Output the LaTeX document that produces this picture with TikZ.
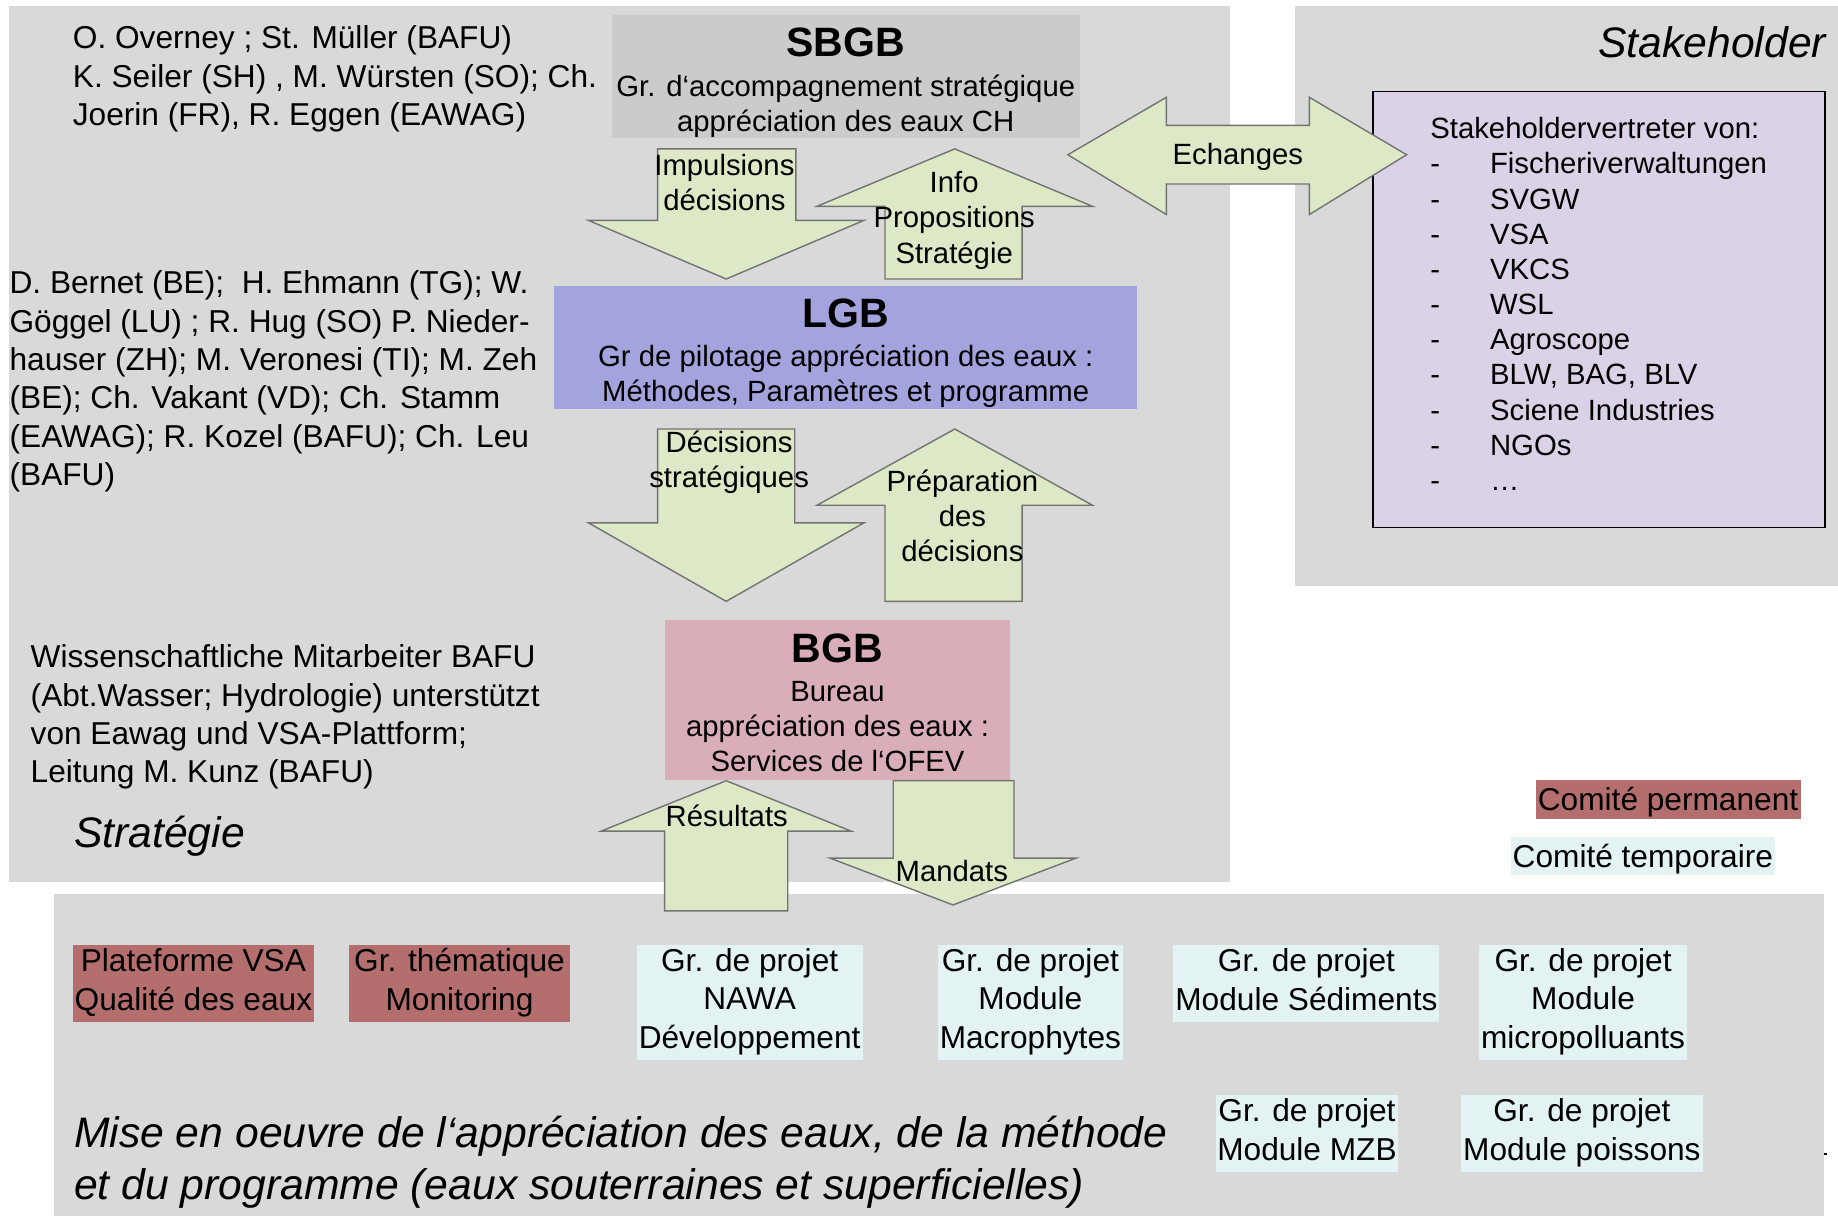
\documentclass[tikz,border=0pt]{standalone}
\usepackage{fontspec}
\setmainfont{Liberation Sans}
\usetikzlibrary{positioning}
\definecolor{PanelGray}{HTML}{D9D9D9}
\definecolor{SbgbGray}{HTML}{CBCBCB}
\definecolor{LgbBlue}{HTML}{A3A3DE}
\definecolor{BgbRose}{HTML}{D9AEB8}
\definecolor{StakeLilac}{HTML}{DCD2E8}
\definecolor{ArrowGreen}{HTML}{DCE8C6}
\definecolor{PermRed}{HTML}{B46E6E}
\definecolor{TempCyan}{HTML}{E3F3F3}
\newcommand{\fsz}[2]{\fontsize{#1}{#2}\selectfont}
\newcommand{\stkitem}[1]{\makebox[51pt][l]{-}#1}
\newcommand{\grpstrut}{\rule[-6.6pt]{0pt}{32.6pt}}

\tikzset{
  panel/.style={fill=PanelGray,draw=none},
  namestext/.style={anchor=north west,inner sep=0pt,align=left,font=\fsz{27}{32.7}},
  headbox/.style={inner sep=0pt,align=center,font=\fsz{25}{30}},
  blockarrow/.style={fill=ArrowGreen,draw=black!55,line width=1.2pt,line join=miter},
  arrowlabel/.style={inner sep=0pt,align=center,font=\fsz{25}{30}},
  groupbox/.style={inner sep=0pt,align=center,font=\fsz{27}{33},
    execute at begin node=\grpstrut,execute at end node=\grpstrut},
  permbox/.style={groupbox,fill=PermRed},
  tempbox/.style={groupbox,fill=TempCyan},
  bigital/.style={inner sep=0pt,font=\fsz{36.4}{44}\itshape}
}

\begin{document}
\begin{tikzpicture}[x=1pt,y=-1pt]
  \useasboundingbox (0,0) rectangle (1568,1037);
  % background panels
  \fill[panel] (8,5) rectangle (1049,752);
  \fill[panel] (1105,5) rectangle (1568,500);
  \fill[panel] (46,763) rectangle (1556,1037);
  \fill[black] (1556,984) rectangle (1559,985.5);

  % members
  \node[namestext] (sbgbnames) at (62,22)
    {O. Overney ; St. Müller (BAFU)\\K. Seiler (SH) , M. Würsten (SO); Ch.\\Joerin (FR), R. Eggen (EAWAG)};
  \node[namestext] (lgbnames) at (8,231)
    {D. Bernet (BE);\ \ H. Ehmann (TG); W.\\Göggel (LU) ; R. Hug (SO) P. Nieder-\\hauser (ZH); M. Veronesi (TI); M. Zeh\\(BE); Ch. Vakant (VD); Ch. Stamm\\(EAWAG); R. Kozel (BAFU); Ch. Leu\\(BAFU)};
  \node[namestext] (bgbnames) at (26,550)
    {Wissenschaftliche Mitarbeiter BAFU\\(Abt.Wasser; Hydrologie) unterstützt\\von Eawag und VSA-Plattform;\\Leitung M. Kunz (BAFU)};
  \node[bigital,anchor=base west] (strategie) at (63,723) {Stratégie};
  \node[bigital,anchor=base east] (stakeholder) at (1558,49) {Stakeholder};

  % committees
  \node[headbox,fill=SbgbGray,minimum width=399pt,minimum height=104pt] (sbgb) at (721.5,65)
    {{\fsz{35}{30}\bfseries\rule{0pt}{36pt}SBGB}\\[4pt]Gr. d‘accompagnement stratégique\\appréciation des eaux CH};
  \node[headbox,fill=LgbBlue,minimum width=497pt,minimum height=105pt] (lgb) at (721.5,296.5)
    {{\fsz{35}{30}\bfseries\rule{0pt}{34pt}LGB}\\[3pt]Gr de pilotage appréciation des eaux :\\Méthodes, Paramètres et programme};
  \node[headbox,fill=BgbRose,minimum width=295pt,minimum height=136pt] (bgb) at (714.5,597)
    {{\fsz{35}{30}\bfseries\rule{0pt}{30pt}BGB}\\[3pt]Bureau\\appréciation des eaux :\\Services de l‘OFEV};

  % stakeholders
  \node[draw=black,line width=1.5pt,fill=StakeLilac,minimum width=386pt,minimum height=372pt] (stakebox) at (1364,264) {};
  \node[anchor=north west,inner sep=0pt,align=left,font=\fsz{25}{30}] (stakelist) at (1220,100)
    {Stakeholdervertreter von:\\\stkitem{Fischeriverwaltungen}\\\stkitem{SVGW}\\\stkitem{VSA}\\\stkitem{VKCS}\\\stkitem{WSL}\\\stkitem{Agroscope}\\\stkitem{BLW, BAG, BLV}\\\stkitem{Sciene Industries}\\\stkitem{NGOs}\\\stkitem{…}};

  % block arrows
  \foreach \sl/\sr/\tp/\hb/\hl/\hr/\tip in {561/679/127/188/502/737/238, 755/872/238/176/697/932/127,
      561/678/366/446/502/737/513, 755/872/513/431/697/932/366,
      567/672/777/709/513/726/666, 762/865/666/732/708/918/772}
    \draw[blockarrow] (\sl,\tp) -- (\sr,\tp) -- (\sr,\hb) -- (\hr,\hb) -- ({(\hl+\hr)/2},\tip)
      -- (\hl,\hb) -- (\sl,\hb) -- cycle;
  \draw[blockarrow] (911,132) -- (995,83) -- (995,107) -- (1117,107) -- (1117,83) -- (1200,132)
    -- (1117,183) -- (1117,157) -- (995,157) -- (995,183) -- cycle;

  \node[arrowlabel] (impulsions) at (618,156) {Impulsions\\décisions};
  \node[arrowlabel] (propositions) at (814,188) {Info\\Propositions\\Stratégie};
  \node[arrowlabel] (echanges) at (1056,134) {Echanges};
  \node[arrowlabel] (decisions) at (622,394) {Décisions\\stratégiques};
  \node[arrowlabel] (preparation) at (821,440) {Préparation\\des\\décisions};
  \node[arrowlabel] (resultats) at (620,696) {Résultats};
  \node[arrowlabel] (mandats) at (812,743) {Mandats};

  % legend
  \node[permbox,minimum width=226pt,minimum height=32pt] (legperm) at (1423,682) {Comité permanent};
  \node[tempbox,minimum width=225pt,minimum height=32pt] (legtemp) at (1401.5,730) {Comité temporaire};

  % working groups
  \node[permbox,minimum width=206pt,minimum height=66pt] (vsa) at (165,839) {Plateforme VSA\\Qualité des eaux};
  \node[permbox,minimum width=188pt,minimum height=66pt] (monitoring) at (392,839) {Gr. thématique\\Monitoring};
  \node[tempbox,minimum width=193pt,minimum height=98pt] (nawa) at (639.5,855) {Gr. de projet\\NAWA\\Développement};
  \node[tempbox,minimum width=158pt,minimum height=98pt] (macro) at (879,855) {Gr. de projet\\Module\\Macrophytes};
  \node[tempbox,minimum width=227pt,minimum height=66pt] (sedi) at (1114.5,839) {Gr. de projet\\Module Sédiments};
  \node[tempbox,minimum width=177pt,minimum height=98pt] (micro) at (1350.5,855) {Gr. de projet\\Module\\micropolluants};
  \node[tempbox,minimum width=156pt,minimum height=66pt] (mzb) at (1115,967) {Gr. de projet\\Module MZB};
  \node[tempbox,minimum width=207pt,minimum height=66pt] (poissons) at (1349.5,967) {Gr. de projet\\Module poissons};
  \node[bigital,anchor=north west,align=left] (miseenoeuvre) at (63,952)
    {Mise en oeuvre de l‘appréciation des eaux, de la méthode\\et du programme (eaux souterraines et superficielles)};
\end{tikzpicture}
\end{document}
